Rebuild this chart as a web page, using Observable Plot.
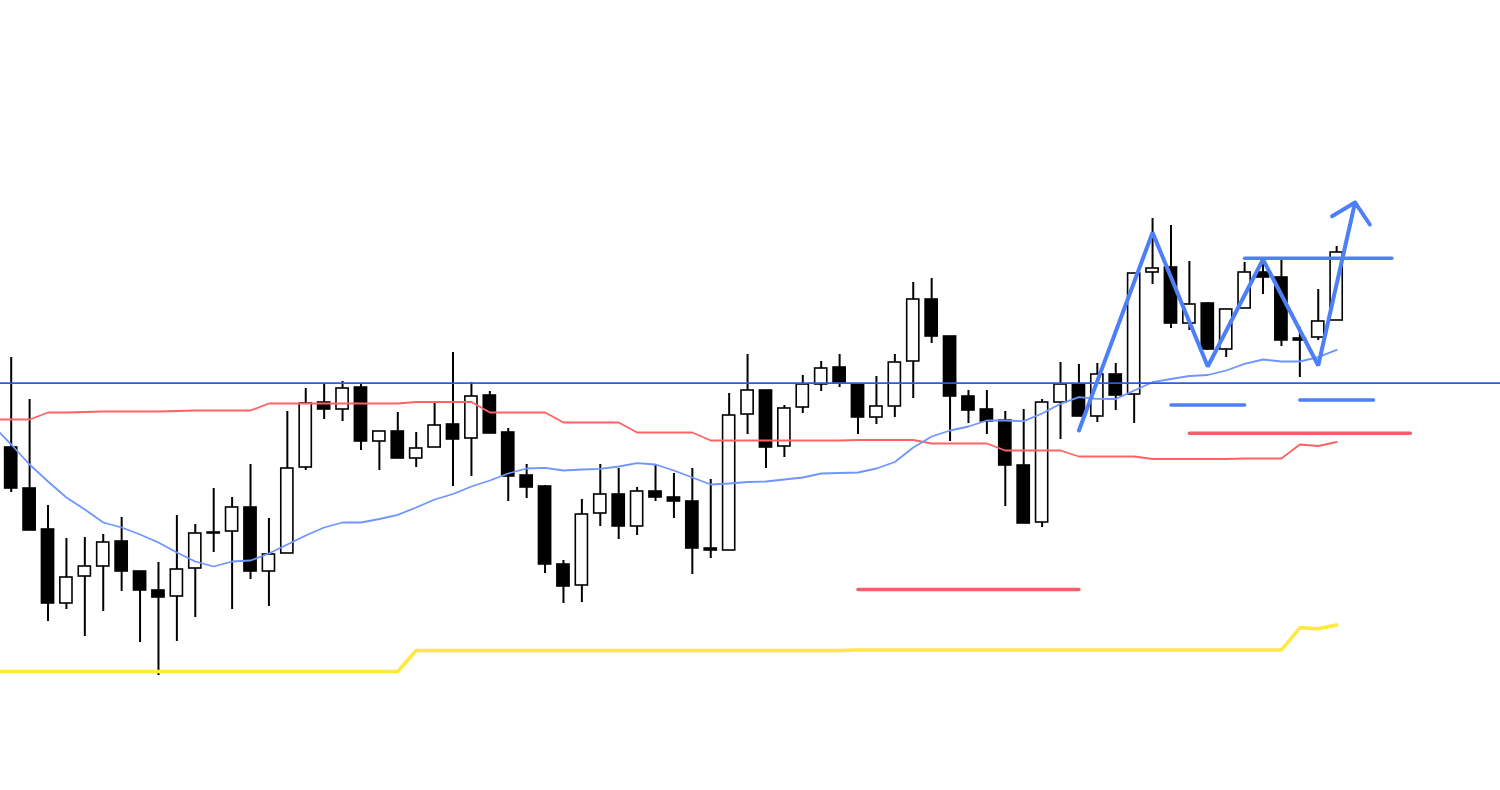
<!DOCTYPE html>
<html><head><meta charset="utf-8">
<script src="https://cdn.jsdelivr.net/npm/d3@7"></script>
<script src="https://cdn.jsdelivr.net/npm/@observablehq/plot@0.6"></script>
<style>html,body{margin:0;padding:0;background:#fff;overflow:hidden}#chart svg{display:block}</style>
</head><body><div id="chart"></div>
<script>
// Candle OHLC values (price units), one per bar, left to right
const opens  = [553,512,471,397,424,434,459,429,410,404,432,468,469,493,429,447,533,598,591,613,559,569,542,553,576,562,605,568,525,514,436,415,487,506,474,509,503,499,452,450,586,610,554,593,616,633,616,583,594,639,701,664,604,591,580,535,478,598,616,584,626,606,728,733,677,697,651,692,728,723,662,663,680];
const highs  = [643,601,495,462,463,466,483,429,438,485,476,512,503,536,482,589,612,616,619,616,569,588,568,597,648,618,609,572,536,515,440,501,536,532,513,536,527,532,521,607,646,610,595,625,639,646,616,624,646,718,722,664,610,610,589,591,601,638,636,637,637,727,782,775,739,698,691,738,740,741,673,711,754];
const lows   = [508,470,379,391,364,389,409,358,325,359,383,448,391,421,394,447,530,581,579,550,530,542,533,553,514,524,567,499,502,427,397,398,474,461,465,499,482,426,442,450,566,532,543,587,609,613,566,576,583,602,657,559,577,566,494,477,473,561,584,578,590,577,716,672,670,650,643,692,706,654,623,660,680];
const closes = [512,470,397,423,434,458,429,410,403,431,467,467,493,429,446,532,597,591,612,559,569,542,552,575,561,604,567,524,513,436,414,486,506,474,509,503,499,452,450,585,610,553,592,616,632,618,583,594,638,701,664,604,590,579,535,477,598,616,584,626,605,727,732,677,696,651,691,728,723,660,660,679,748];

// Indicator lines, starting one bar before the first visible candle (bar -1)
const redLine = [581,581,581,588,588,588.5,589,589,589,589,589.5,590,590,590,590,597,597,597,597,597,597,597,597,598.5,598.5,598.5,598.5,588,588,588,588,578,578,578,578,568,568,568,568,560,560,560,560,560,560,560,560,560.5,560.5,560.5,560.5,557,557,557,557,550,550,550,550,544,544,544,544,541.5,541.5,541.5,541.5,541.5,542,542,542,556,554.5,558.5];
const maLine = [575,556,536,519,503,491,478,473,466,458,448,439,434,439,440,447,456,465,473,478,478,481.5,485.7,493,501,506.5,514,520,527,532,532.7,530,531,531.7,534,537.3,536,530,523,516,517,518.5,519,521,523,527,527.5,528,532,538.5,553,564,570,574,580,580,579.3,587,596.7,603.3,601.7,601.5,610,618.3,621.5,624.5,625.5,630,636.7,641,639,639,643.3,650.7];
const yellowLine = [329,329,329,329,329,329,329,329,329,329,329,329,329,329,329,329,329,329,329,329,329,329,329,350,350,350,350,350,350,350,350,350,350,350,350,350,350,350,350,350,350,350,350,350,350,350,350,350.5,350.5,350.5,350.5,350.5,350.5,350.5,350.5,350.5,350.5,350.5,350.5,350.5,350.5,350.5,350.5,350.5,350.5,350.5,350.5,350.5,350.5,350.5,350.5,372.7,371.7,375.5];
const levelPrice = 617.3;

// Hand-drawn annotations (bar index, price)
const zigzagBars   = [58, 62, 65, 68, 71, 73];
const zigzagPrices = [570, 768, 634, 741, 635, 798];
const arrowBars    = [71.75, 73, 73.8];
const arrowPrices  = [784.3, 798, 776];
const blueSegStart = [67, 63, 70];
const blueSegEnd   = [75, 67, 74];
const blueSegPrice = [742.3, 595.5, 600.5];
const redSegStart  = [64, 46];
const redSegEnd    = [76, 58];
const redSegPrice  = [567.3, 411];

const candles = opens.map((o, i) => ({i, o, h: highs[i], l: lows[i], c: closes[i], up: closes[i] > o}));
const lineBars = d3.range(-1, opens.length);
const lines = lineBars.map((b, k) => ({i: b, red: redLine[k], ma: maLine[k], yel: yellowLine[k]}));
const zig = zigzagBars.map((b, k) => ({i: b, v: zigzagPrices[k]}));
const arrow = arrowBars.map((b, k) => ({i: b, v: arrowPrices[k]}));
const blueSegs = blueSegStart.map((s, k) => ({s, e: blueSegEnd[k], v: blueSegPrice[k]}));
const redSegs = redSegStart.map((s, k) => ({s, e: redSegEnd[k], v: redSegPrice[k]}));

const chart = Plot.plot({
  width: 1500, height: 790,
  margin: 0,
  style: {background: "#fff"},
  x: {type: "linear", domain: [-0.581, 80.9], axis: null},
  y: {domain: [210, 1000], axis: null},
  color: {type: "identity"},
  marks: [
    Plot.ruleX(candles, {x: "i", y1: "l", y2: "h", stroke: "#000", strokeWidth: 2}),
    Plot.rect(candles, {x1: d => d.i - 0.33, x2: d => d.i + 0.33, y1: "o", y2: "c",
      fill: d => d.up ? "#ffffff" : "#000000", stroke: "#000", strokeWidth: 1.6}),
    Plot.line(lines, {x: "i", y: "red", stroke: "#ff6262", strokeWidth: 1.8, clip: true}),
    Plot.line(lines, {x: "i", y: "ma", stroke: "#6f95ff", strokeWidth: 1.8, clip: true}),
    Plot.line(lines, {x: "i", y: "yel", stroke: "#ffe93b", strokeWidth: 3.5, clip: true}),
    Plot.ruleY([levelPrice], {stroke: "#2a5bf0", strokeWidth: 1.8}),
    Plot.link(redSegs, {x1: "s", x2: "e", y1: "v", y2: "v", stroke: "#f0606a", strokeWidth: 3.5, strokeLinecap: "round"}),
    Plot.link(blueSegs, {x1: "s", x2: "e", y1: "v", y2: "v", stroke: "#4d7ff7", strokeWidth: 3.5, strokeLinecap: "round"}),
    Plot.line(zig, {x: "i", y: "v", stroke: "#4d7ff7", strokeWidth: 4, strokeLinecap: "round", strokeLinejoin: "miter"}),
    Plot.line(arrow, {x: "i", y: "v", stroke: "#4d7ff7", strokeWidth: 4, strokeLinecap: "round", strokeLinejoin: "miter"})
  ]
});
document.getElementById("chart").append(chart);
</script>
</body></html>
